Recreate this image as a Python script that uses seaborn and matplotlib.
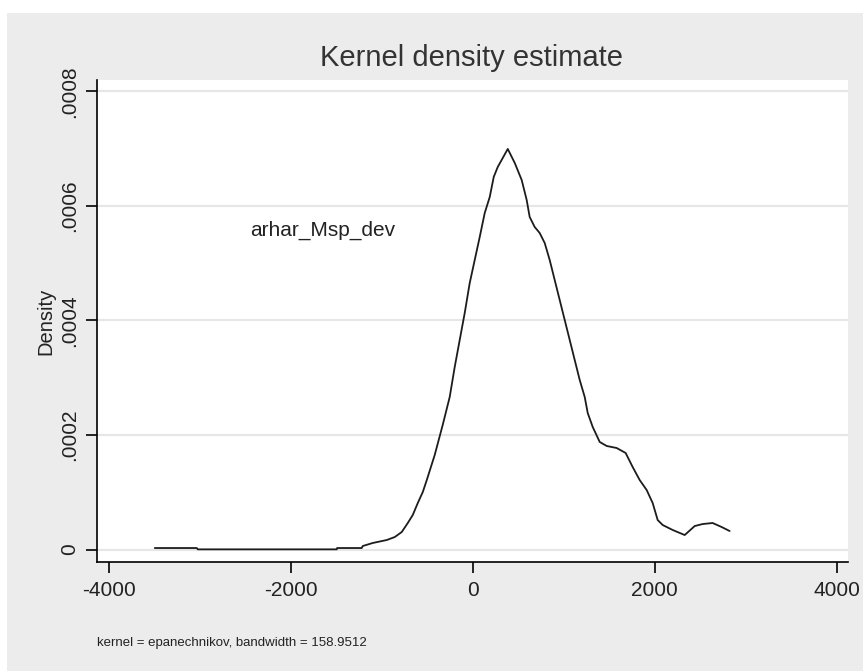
import matplotlib
matplotlib.use("Agg")
import matplotlib.pyplot as plt
import seaborn as sns
import pandas as pd
from matplotlib.patches import Rectangle

# Data (x: arhar_Msp_dev, y: density)
x_vals = [-3495, -3033, -3022, -1495, -1490, -1220, -1209, -1099, -945, -857,
          -780, -714, -659, -604, -549, -505, -418, -330, -253, -198,
          -143, -88, -33, 22, 77, 132, 187, 231, 275, 330,
          385, 462, 538, 593, 626, 681, 736, 791, 846, 901,
          956, 1011, 1066, 1121, 1176, 1231, 1264, 1319, 1396, 1473,
          1582, 1681, 1758, 1835, 1912, 1978, 2033, 2088, 2198, 2330,
          2440, 2527, 2637, 2736, 2824]
density = [0.0000026, 0.0000026, 0.0000003, 0.0000003, 0.0000026, 0.0000026, 0.0000061, 0.0000114, 0.0000166, 0.0000218,
           0.0000306, 0.0000463, 0.0000603, 0.0000812, 0.0001004, 0.0001214, 0.000165, 0.0002175, 0.0002664, 0.0003188,
           0.000366, 0.0004131, 0.0004655, 0.0005057, 0.0005459, 0.0005878, 0.0006157, 0.0006507, 0.0006681, 0.0006838,
           0.0006996, 0.0006751, 0.0006454, 0.0006105, 0.0005808, 0.0005633, 0.0005528, 0.0005354, 0.0005057, 0.0004707,
           0.0004358, 0.0004009, 0.000366, 0.000331, 0.0002961, 0.0002664, 0.0002384, 0.000214, 0.0001878, 0.0001808,
           0.0001773, 0.0001686, 0.0001441, 0.0001214, 0.0001039, 0.0000812, 0.0000515, 0.0000428, 0.0000341, 0.0000253,
           0.000041, 0.0000445, 0.0000463, 0.0000393, 0.0000323]
x_ticks = [-4000, -2000, 0, 2000, 4000]
x_tick_labels = ["-4000", "-2000", "0", "2000", "4000"]
y_ticks = [0, 0.0002, 0.0004, 0.0006, 0.0008]
y_tick_labels = ["0", ".0002", ".0004", ".0006", ".0008"]
title = "Kernel density estimate"
y_label = "Density"
series_label = "arhar_Msp_dev"
note = "kernel = epanechnikov, bandwidth = 158.9512"

df = pd.DataFrame({"x": x_vals, "density": density})

sns.set_theme(style="white")
plt.rcParams["font.family"] = ["Liberation Sans", "DejaVu Sans"]

W, H = 863, 671
fig = plt.figure(figsize=(W / 100, H / 100), dpi=100, facecolor="white")
bg = Rectangle((7 / W, 0), 1 - 7 / W, 1 - 13 / H, transform=fig.transFigure,
               facecolor="#ececec", edgecolor="none", zorder=-10)
fig.patches.append(bg)

ax = fig.add_axes([97 / W, 1 - 562 / H, 751 / W, 482 / H])
ax.set_zorder(1)
ax.set_facecolor("white")

sns.lineplot(data=df, x="x", y="density", ax=ax, color="#1c1c1c", linewidth=1.3,
             estimator=None, sort=False)

ax.set_xlim(-4130, 4125)
ax.set_ylim(-0.0000218, 0.00082)

ax.set_xticks(x_ticks)
ax.set_xticklabels(x_tick_labels, fontsize=15, color="#222222")
ax.set_yticks(y_ticks)
ax.set_yticklabels(y_tick_labels, fontsize=15, color="#222222", rotation=90, va="center")

ax.tick_params(axis="both", which="major", direction="out", length=8, width=1.2,
               color="black", bottom=True, left=True)
ax.tick_params(axis="x", pad=6)
ax.tick_params(axis="y", pad=5)

for s in ["top", "right"]:
    ax.spines[s].set_visible(False)
for s in ["left", "bottom"]:
    ax.spines[s].set_color("black")
    ax.spines[s].set_linewidth(1.2)

ax.yaxis.grid(True, color="#e6e6e6", linewidth=1.5)
ax.xaxis.grid(False)
ax.set_axisbelow(True)

ax.set_xlabel("")
ax.set_ylabel(y_label, fontsize=14.5, color="#222222")
ax.yaxis.set_label_coords((55 - 97) / 751, 0.5)

ax.text((250 - 97) / 751, (562 - 236) / 482, series_label, transform=ax.transAxes,
        fontsize=15, color="#222222", ha="left", va="baseline")

fig.text(471 / W, 1 - 58 / H, title, fontsize=21, color="#333333", ha="center", va="center")
fig.text(97 / W, 1 - 643 / H, note, fontsize=9.5, color="#222222", ha="left", va="center")

fig.savefig("out.png", dpi=100, facecolor=fig.get_facecolor())
